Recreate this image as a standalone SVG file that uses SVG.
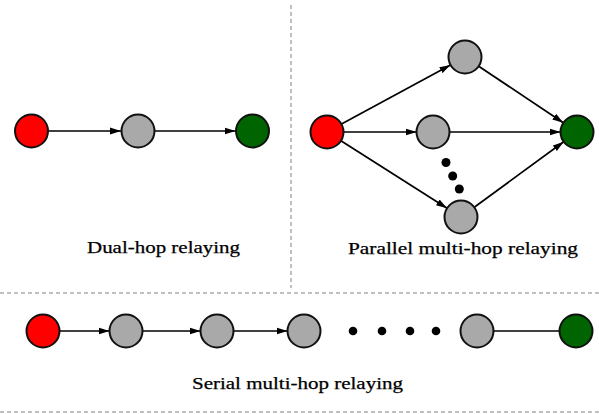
<svg xmlns="http://www.w3.org/2000/svg" width="599" height="414" viewBox="0 0 599 414">
<style>
.n{stroke:#111;stroke-width:2}
.src{fill:#ff0000}
.rel{fill:#a9a9a9}
.dst{fill:#006400}
.e{stroke:#000;stroke-width:1.7;fill:none}
.a{marker-end:url(#arr)}
.dash{stroke:#aaaaaa;stroke-width:1.5;stroke-dasharray:4 3;fill:none}
.dot{fill:#000}
.lbl{font-family:"Liberation Serif","DejaVu Serif",serif;font-size:17px;fill:#000;text-anchor:middle;stroke:#000;stroke-width:0.25}
</style>
<defs>
<marker id="arr" markerUnits="userSpaceOnUse" markerWidth="11" markerHeight="8" viewBox="0 0 11 8" refX="11" refY="4" orient="auto">
<path d="M0,0.6 L11,4 L0,7.4 Z" fill="#000"/>
</marker>
</defs>
<g id="separators">
<line class="dash" x1="291" y1="5" x2="291" y2="288"/>
<line class="dash" x1="0" y1="293" x2="599" y2="293"/>
<line class="dash" x1="0" y1="412" x2="599" y2="412"/>
</g>
<g id="connectors">
<line class="e a" x1="48.5" y1="131" x2="121" y2="131"/>
<line class="e a" x1="154.5" y1="131" x2="235.5" y2="131"/>
<line class="e a" x1="341.5" y1="124.1" x2="450.5" y2="64.9"/>
<line class="e a" x1="343.5" y1="132" x2="416.8" y2="132"/>
<line class="e a" x1="340.9" y1="140.8" x2="447.1" y2="208.2"/>
<line class="e a" x1="478.7" y1="66.2" x2="563.3" y2="122.8"/>
<line class="e a" x1="449.8" y1="132" x2="560.5" y2="132"/>
<line class="e a" x1="474.3" y1="207.2" x2="563.7" y2="141.8"/>
<line class="e a" x1="59.5" y1="331" x2="109.5" y2="331"/>
<line class="e a" x1="142.5" y1="331" x2="200.5" y2="331"/>
<line class="e a" x1="233.5" y1="331" x2="287.5" y2="331"/>
<line class="e" x1="493.5" y1="331" x2="559.5" y2="331"/>
</g>
<g id="dual-src"><circle class="n src" cx="31.5" cy="131" r="16.5"/></g>
<g id="dual-relay"><circle class="n rel" cx="138" cy="131" r="16.5"/></g>
<g id="dual-dst"><circle class="n dst" cx="252.5" cy="131" r="16.5"/></g>
<g id="par-src"><circle class="n src" cx="327" cy="132" r="16.5"/></g>
<g id="par-relay-top"><circle class="n rel" cx="465" cy="57" r="16.5"/></g>
<g id="par-relay-mid"><circle class="n rel" cx="433" cy="132" r="16.5"/></g>
<g id="par-relay-bot"><circle class="n rel" cx="461" cy="217" r="16.5"/></g>
<g id="par-dst"><circle class="n dst" cx="577" cy="132" r="16.5"/></g>
<g id="par-dots">
<circle class="dot" cx="446" cy="162.5" r="4.5"/>
<circle class="dot" cx="452.7" cy="176" r="4.5"/>
<circle class="dot" cx="459.3" cy="189" r="4.5"/>
</g>
<g id="ser-src"><circle class="n src" cx="43" cy="331" r="16.5"/></g>
<g id="ser-relay1"><circle class="n rel" cx="126" cy="331" r="16.5"/></g>
<g id="ser-relay2"><circle class="n rel" cx="217" cy="331" r="16.5"/></g>
<g id="ser-relay3"><circle class="n rel" cx="304" cy="331" r="16.5"/></g>
<g id="ser-relayN"><circle class="n rel" cx="477" cy="331" r="16.5"/></g>
<g id="ser-dst"><circle class="n dst" cx="576" cy="331" r="16.5"/></g>
<g id="ser-dots">
<circle class="dot" cx="353" cy="331" r="4.3"/>
<circle class="dot" cx="382" cy="331" r="4.3"/>
<circle class="dot" cx="410" cy="331" r="4.3"/>
<circle class="dot" cx="436" cy="331" r="4.3"/>
</g>
<g id="labels">
<text class="lbl" x="163.5" y="253" textLength="153" lengthAdjust="spacingAndGlyphs">Dual-hop relaying</text>
<text class="lbl" x="463" y="254" textLength="230" lengthAdjust="spacingAndGlyphs">Parallel multi-hop relaying</text>
<text class="lbl" x="297.5" y="389" textLength="211" lengthAdjust="spacingAndGlyphs">Serial multi-hop relaying</text>
</g>
</svg>
